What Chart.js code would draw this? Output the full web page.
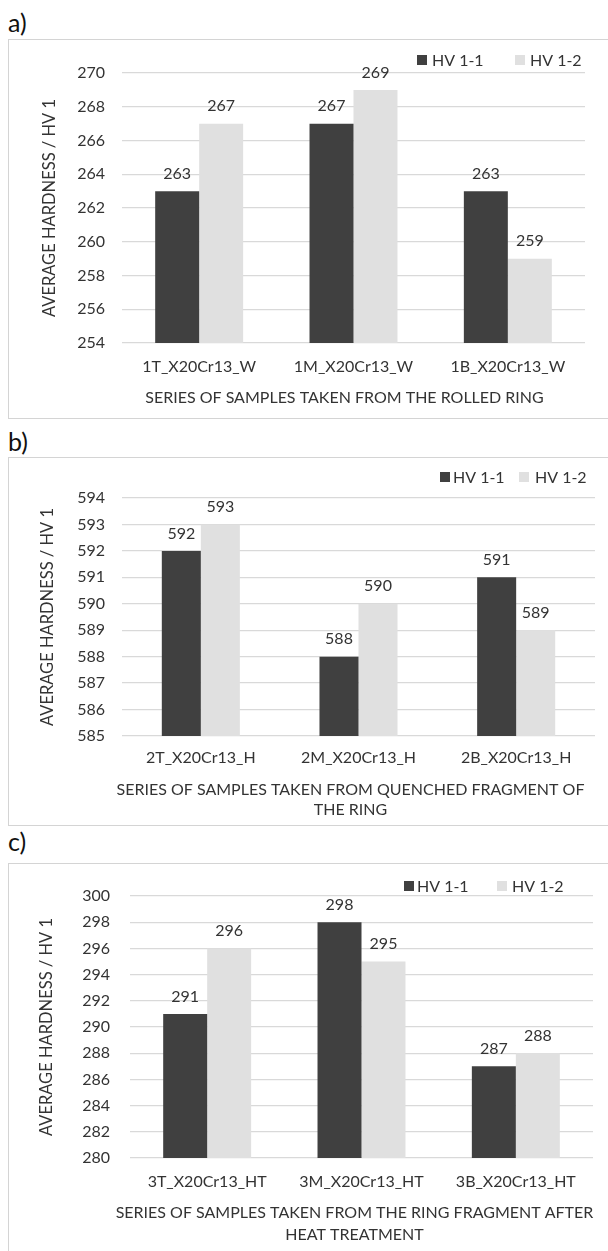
<!DOCTYPE html>
<html><head><meta charset="utf-8">
<script src="https://cdn.jsdelivr.net/npm/chart.js@4.4.1/dist/chart.umd.min.js"></script>
<style>
html,body{margin:0;padding:0;background:#fff;width:608px;height:1251px;overflow:hidden;position:relative;}
.lbl{position:absolute;left:8px;font:25px Lato,sans-serif;color:#111;line-height:25px;}
.box{position:absolute;left:8px;width:640px;border:1px solid #d4d4d4;border-right:none;box-sizing:border-box;}
canvas{position:absolute;left:9px;}
</style></head><body>
<div class="lbl" style="top:10px">a)</div>
<div class="box" style="top:39px;height:380px"></div>
<canvas id="ca" width="599" height="378" style="top:40px"></canvas>
<div class="lbl" style="top:429px">b)</div>
<div class="box" style="top:457px;height:369px"></div>
<canvas id="cb" width="599" height="367" style="top:458px"></canvas>
<div class="lbl" style="top:829px">c)</div>
<div class="box" style="top:863px;height:420px"></div>
<canvas id="cc" width="599" height="387" style="top:864px"></canvas>
<script>
// ---- data ----
const seriesLabels = ['HV 1-1', 'HV 1-2'];
const categoriesA = ['1T_X20Cr13_W', '1M_X20Cr13_W', '1B_X20Cr13_W'];
const hv11A = [263, 267, 263];
const hv12A = [267, 269, 259];
const yTicksA = [254, 256, 258, 260, 262, 264, 266, 268, 270];
const categoriesB = ['2T_X20Cr13_H', '2M_X20Cr13_H', '2B_X20Cr13_H'];
const hv11B = [592, 588, 591];
const hv12B = [593, 590, 589];
const yTicksB = [585, 586, 587, 588, 589, 590, 591, 592, 593, 594];
const categoriesC = ['3T_X20Cr13_HT', '3M_X20Cr13_HT', '3B_X20Cr13_HT'];
const hv11C = [291, 298, 287];
const hv12C = [296, 295, 288];
const yTicksC = [280, 282, 284, 286, 288, 290, 292, 294, 296, 298, 300];
const yTitle = 'AVERAGE HARDNESS / HV 1';
const xTitleA = ['SERIES OF SAMPLES TAKEN FROM THE ROLLED RING'];
const xTitleB = ['SERIES OF SAMPLES TAKEN FROM QUENCHED FRAGMENT OF', 'THE RING'];
const xTitleC = ['SERIES OF SAMPLES TAKEN FROM THE RING FRAGMENT AFTER', 'HEAT TREATMENT'];

// ---- style ----
const FONT = 'Lato, sans-serif';
const TXT = '#333333';
const DARK = '#404040';
const LIGHT = '#e0e0e0';
const GRID = '#d9d9d9';

const valueLabels = {
  id: 'valueLabels',
  afterDatasetsDraw(chart) {
    const ctx = chart.ctx;
    ctx.save();
    ctx.font = '16px ' + FONT;
    ctx.fillStyle = TXT;
    ctx.textAlign = 'center';
    ctx.textBaseline = 'middle';
    chart.data.datasets.forEach((ds, i) => {
      chart.getDatasetMeta(i).data.forEach((el, j) => {
        ctx.fillText(String(ds.data[j]), el.x, el.y - 17.5);
      });
    });
    ctx.restore();
  }
};
const manualLegend = {
  id: 'manualLegend',
  afterDraw(chart, args, opts) {
    const ctx = chart.ctx;
    ctx.save();
    ctx.font = '16px ' + FONT;
    ctx.textBaseline = 'middle';
    ctx.textAlign = 'left';
    chart.data.datasets.forEach((ds, i) => {
      const it = opts.items[i];
      ctx.fillStyle = ds.backgroundColor;
      ctx.fillRect(it.box, opts.y - 5, 10, 10);
      ctx.fillStyle = TXT;
      ctx.fillText(ds.label, it.text, opts.y + 1);
    });
    ctx.restore();
  }
};
// x-axis title drawn under the x scale (slightly offset from the plot centre as in the original)
const xAxisTitle = {
  id: 'xAxisTitle',
  afterDraw(chart, args, opts) {
    const ctx = chart.ctx;
    const sx = chart.scales.x;
    const cx = (sx.left + sx.right) / 2 + opts.dx;
    const n = opts.text.length;
    ctx.save();
    ctx.font = '16px ' + FONT;
    ctx.fillStyle = TXT;
    ctx.textAlign = 'center';
    ctx.textBaseline = 'middle';
    opts.text.forEach((t, i) => {
      const y = sx.bottom - opts.pad - opts.lh / 2 - (n - 1 - i) * opts.lh;
      ctx.fillText(t, cx, y);
    });
    ctx.restore();
  }
};

function makeChart(id, cats, d1, d2, ticks, xTitle, L) {
  const step = ticks[1] - ticks[0];
  new Chart(document.getElementById(id), {
    type: 'bar',
    data: {
      labels: cats,
      datasets: [
        { label: seriesLabels[0], data: d1, backgroundColor: DARK },
        { label: seriesLabels[1], data: d2, backgroundColor: LIGHT }
      ]
    },
    options: {
      responsive: false,
      animation: false,
      devicePixelRatio: 1,
      datasets: { bar: { categoryPercentage: L.catPct, barPercentage: 1 } },
      layout: { padding: { left: 0, top: L.top, right: L.right, bottom: 0 } },
      plugins: {
        legend: { display: false },
        tooltip: { enabled: false },
        manualLegend: L.legend,
        xAxisTitle: { text: xTitle, dx: L.titleDx, lh: L.xTitleLH, pad: L.xTitlePad }
      },
      scales: {
        x: {
          grid: { display: false, drawTicks: false },
          border: { display: false },
          ticks: { color: TXT, font: { family: FONT, size: 16 }, padding: L.xTickPad, maxRotation: 0 },
          title: { display: false },
          afterFit(s) { s.height = L.xH; }
        },
        y: {
          min: ticks[0], max: ticks[ticks.length - 1],
          afterBuildTicks(s) { s.ticks = ticks.map(v => ({ value: v })); },
          grid: { color: GRID, lineWidth: 1.3, drawTicks: false },
          border: { display: false },
          ticks: { color: TXT, font: { family: FONT, size: 16 }, padding: L.yTickPad, stepSize: step },
          title: { display: true, text: yTitle, color: TXT, font: { family: FONT, size: 16.5 }, padding: { top: L.yTitlePad, bottom: 0 } },
          afterFit(s) { s.width = L.yW; }
        }
      }
    },
    plugins: [valueLabels, manualLegend, xAxisTitle]
  });
}

makeChart('ca', categoriesA, hv11A, hv12A, yTicksA, xTitleA, {
  catPct: 0.57, top: 33, right: 23, xH: 75, yW: 113, xTickPad: 14, xTitlePad: 11, xTitleLH: 19, yTickPad: 17, yTitlePad: 31, titleDx: -9,
  legend: { y: 20, items: [{ box: 408, text: 423 }, { box: 506, text: 521 }] }
});
makeChart('cb', categoriesB, hv11B, hv12B, yTicksB, xTitleB, {
  catPct: 0.495, top: 40, right: 13, xH: 89, yW: 113, xTickPad: 12, xTitlePad: 5, xTitleLH: 20, yTickPad: 17, yTitlePad: 29, titleDx: -8,
  legend: { y: 19, items: [{ box: 431, text: 444 }, { box: 510, text: 526 }] }
});
makeChart('cc', categoriesC, hv11C, hv12C, yTicksC, xTitleC, {
  catPct: 0.57, top: 32, right: 15, xH: 93, yW: 121, xTickPad: 14, xTitlePad: 5, xTitleLH: 22, yTickPad: 20, yTitlePad: 28, titleDx: -7,
  legend: { y: 22, items: [{ box: 395, text: 408 }, { box: 488, text: 503 }] }
});
</script>
</body></html>
